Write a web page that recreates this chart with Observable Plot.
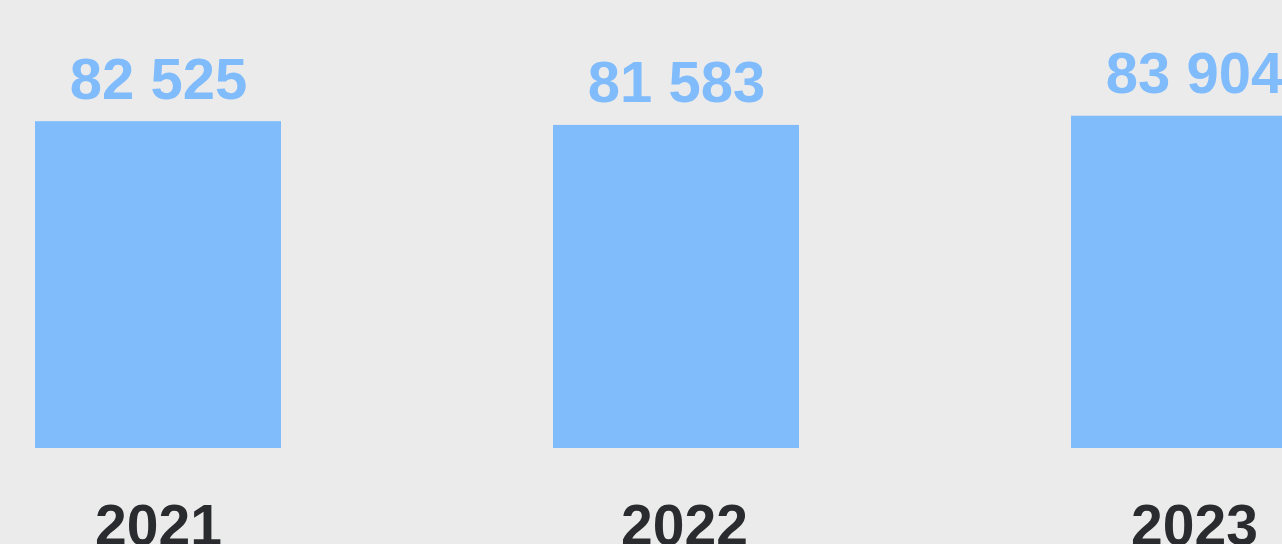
<!DOCTYPE html>
<html>
<head>
<meta charset="utf-8">
<script src="https://cdn.jsdelivr.net/npm/d3@7"></script>
<script src="https://cdn.jsdelivr.net/npm/@observablehq/plot@0.6"></script>
<style>
  html, body { margin: 0; padding: 0; background: #ebebeb; overflow: hidden; }
  #chart svg { overflow: hidden; display: block; }
</style>
</head>
<body>
<div id="chart"></div>
<script>
const years = ["2021", "2022", "2023"];
const values = [82525, 81583, 83904];

const data = years.map((year, i) => ({ year, value: values[i] }));
const fmt = d3.formatLocale({ thousands: " ", grouping: [3], decimal: "," }).format(",d");

const barColor = "#80bbfc";
const font = "'Liberation Sans', Arial, Helvetica, sans-serif";
const yearAxis = {
  tickSize: 0, tickPadding: 56, fontSize: 57, fontWeight: "bold",
  fontFamily: font, color: "#2a2b2e", label: null
};

const plot = Plot.plot({
  width: 1282,
  height: 544,
  marginTop: 52,
  marginBottom: 96,
  marginLeft: 0,
  marginRight: 0,
  style: { background: "#ebebeb", fontFamily: font },
  x: { domain: years, range: [-101, 1453], paddingInner: 0.525, paddingOuter: 0.2625, axis: null },
  y: { domain: [0, 100000], axis: null },
  marks: [
    Plot.barY(data, { x: "year", y: "value", fill: barColor }),
    Plot.text(data, {
      x: "year", y: "value", text: d => fmt(d.value),
      lineAnchor: "bottom", dy: -23,
      fill: barColor, fontSize: 58, fontWeight: "bold", fontFamily: font
    }),
    Plot.axisX({ ...yearAxis, ticks: [years[0], years[2]] }),
    Plot.axisX({ ...yearAxis, ticks: [years[1]], dx: 8 })
  ]
});
document.getElementById("chart").appendChild(plot);
</script>
</body>
</html>
